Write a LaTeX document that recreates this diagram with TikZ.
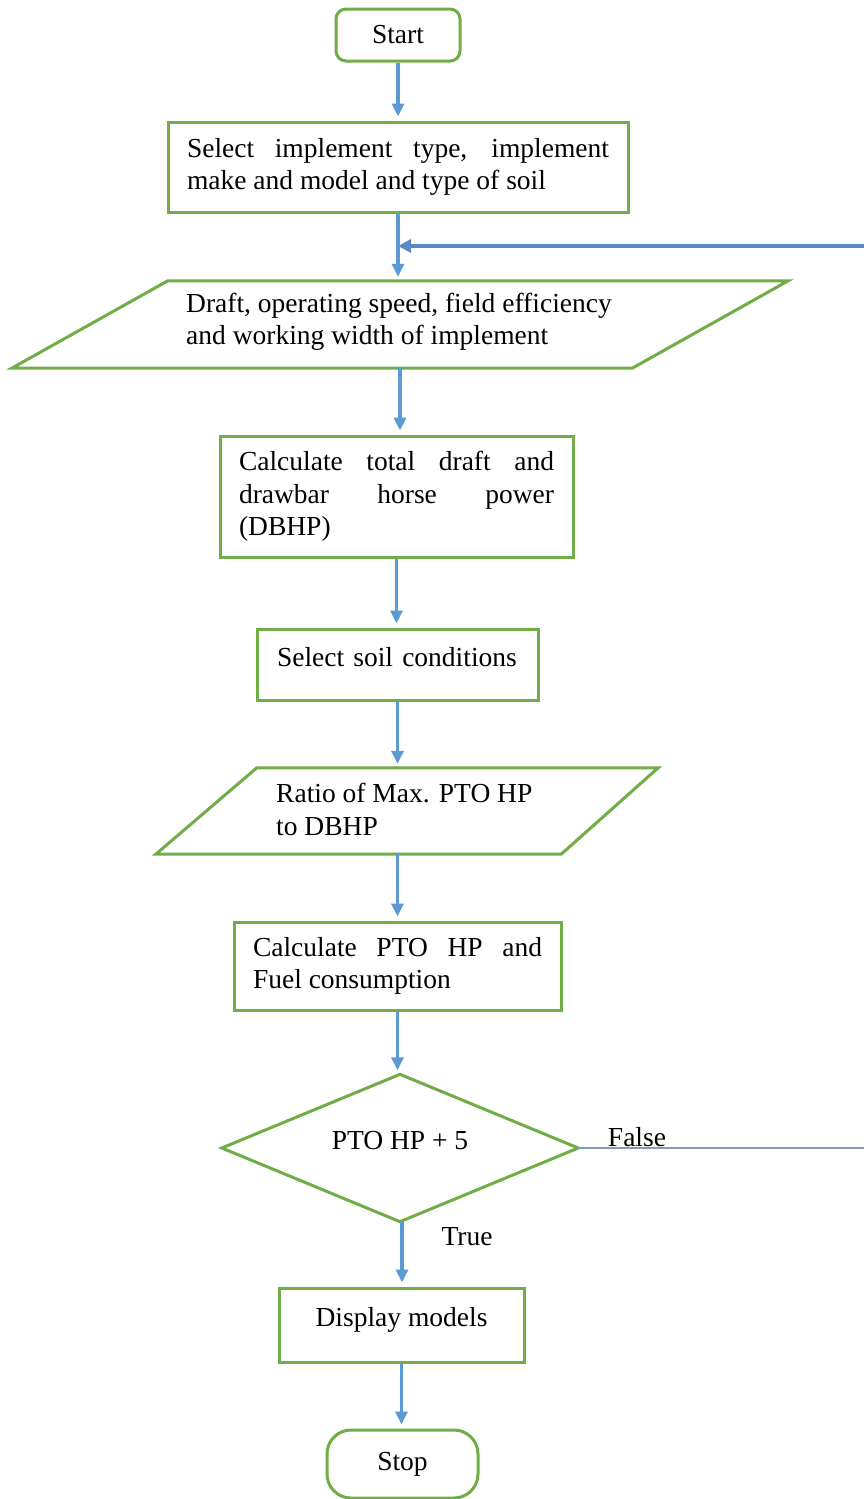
\documentclass[tikz,border=0pt]{standalone}
\usepackage{fontspec}
\setmainfont{Liberation Serif}
\usetikzlibrary{arrows.meta,calc}
\definecolor{boxgreen}{HTML}{70AD47}
\definecolor{arrowblue}{HTML}{5B9BD5}
\definecolor{loopblue}{HTML}{5A88C2}
\definecolor{falseblue}{HTML}{7F9DBF}
\tolerance=10000
\hbadness=10000
\hyphenpenalty=10000
\exhyphenpenalty=10000
\begin{document}
\begin{tikzpicture}[x=1pt,y=-1pt,
  every node/.style={font=\fontsize{27.5}{32.5}\selectfont},
  greenline/.style={draw=boxgreen, line width=3pt, line join=miter},
  proc/.style={greenline, rectangle, inner ysep=0pt},
  frame/.style={rectangle, draw=none, inner sep=0pt},
  txt/.style={inner sep=0pt},
  arr/.style={draw=arrowblue, line width=3.2pt, -{Triangle[length=13pt,width=12pt]}, shorten >=4pt},
  looparr/.style={draw=loopblue, line width=4pt, -{Triangle[length=13pt,width=13pt]}},
  falseline/.style={draw=falseblue, line width=1.6pt}
]
\useasboundingbox (0,0) rectangle (864,1499);
\fill[white] (0,0) rectangle (864,1499);

% Start
\node[proc, rounded corners=10pt, minimum width=124pt, minimum height=52pt] (start) at (398,35) {Start};

% Box 1
\node[proc, minimum width=460pt, minimum height=90pt, text width=422pt, inner xsep=19pt, align=justify] (b1) at (398,167)
  {Select implement type, implement make and model and type of soil};

% Parallelogram 1
\node[frame, minimum width=776pt, minimum height=87pt] (p1) at (400,324.5) {};
\draw[greenline] ($(p1.north west)+(156,0)$) -- (p1.north east) -- ($(p1.south east)+(-156,0)$) -- (p1.south west) -- cycle;
\node[txt, anchor=west, align=left] (p1txt) at (186,322) {Draft, operating speed, field efficiency\\and working width of implement};

% Box 2
\node[proc, minimum width=353pt, minimum height=121pt, text width=315pt, inner xsep=19pt, align=justify] (b2) at (396.5,496.5)
  {Calculate total draft and drawbar horse power (DBHP)};

% Box 3
\node[proc, minimum width=281pt, minimum height=71pt, text width=241pt, inner xsep=20pt, align=left, text height=19pt, text depth=16pt] (b3) at (397.5,664.5)
  {Select soil conditions};

% Parallelogram 2
\node[frame, minimum width=502pt, minimum height=86pt] (p2) at (407,811) {};
\draw[greenline] ($(p2.north west)+(101,0)$) -- (p2.north east) -- ($(p2.south east)+(-97,0)$) -- (p2.south west) -- cycle;
\node[txt, anchor=west, align=left] (p2txt) at (276,809.5) {Ratio of Max. PTO HP\\to DBHP};

% Box 4
\node[proc, minimum width=327pt, minimum height=88pt, text width=289pt, inner xsep=19pt, align=justify] (b4) at (397.5,966)
  {Calculate PTO HP and Fuel consumption};

% Decision
\node[frame, minimum width=356pt, minimum height=147pt, text height=19pt, text depth=17pt] (dec) at (400,1148) {PTO HP + 5};
\draw[greenline] (dec.north) -- (dec.east) -- (dec.south) -- (dec.west) -- cycle;

% Display models
\node[proc, minimum width=245pt, minimum height=74pt, align=center, text height=19pt, text depth=17pt] (b5) at (401.5,1325) {Display models};

% Stop
\node[proc, rounded corners=24pt, minimum width=151pt, minimum height=68pt] (stop) at (402.5,1464) {Stop};

% Labels
\node[txt] (flab) at (637,1137) {False};
\node[txt] (tlab) at (467,1237) {True};

% Auxiliary coordinates
\coordinate (rfalse) at (864,1149);
\coordinate (rloop) at (864,246);
\coordinate (dout) at ($(dec.south)+(2,0)$);

% Connectors
\draw[arr] (start.south) -- (start.south |- b1.north);
\draw[arr] (b1.south) -- (b1.south |- p1.north);
\draw[arr] (p1.south) -- (p1.south |- b2.north);
\draw[arr] (b2.south) -- (b2.south |- b3.north);
\draw[arr] (b3.south) -- (b3.south |- p2.north);
\draw[arr] (b3.south |- p2.south) -- (b3.south |- b4.north);
\draw[arr] (b4.south) -- (b4.south |- dec.north);
\draw[arr] (dout) -- (dout |- b5.north);
\draw[arr] (b5.south) -- (b5.south |- stop.north);
\draw[falseline] (dec.east) -- (dec.east -| rfalse);
\draw[looparr] (rloop) -- (rloop -| b1.south);
\end{tikzpicture}
\end{document}
